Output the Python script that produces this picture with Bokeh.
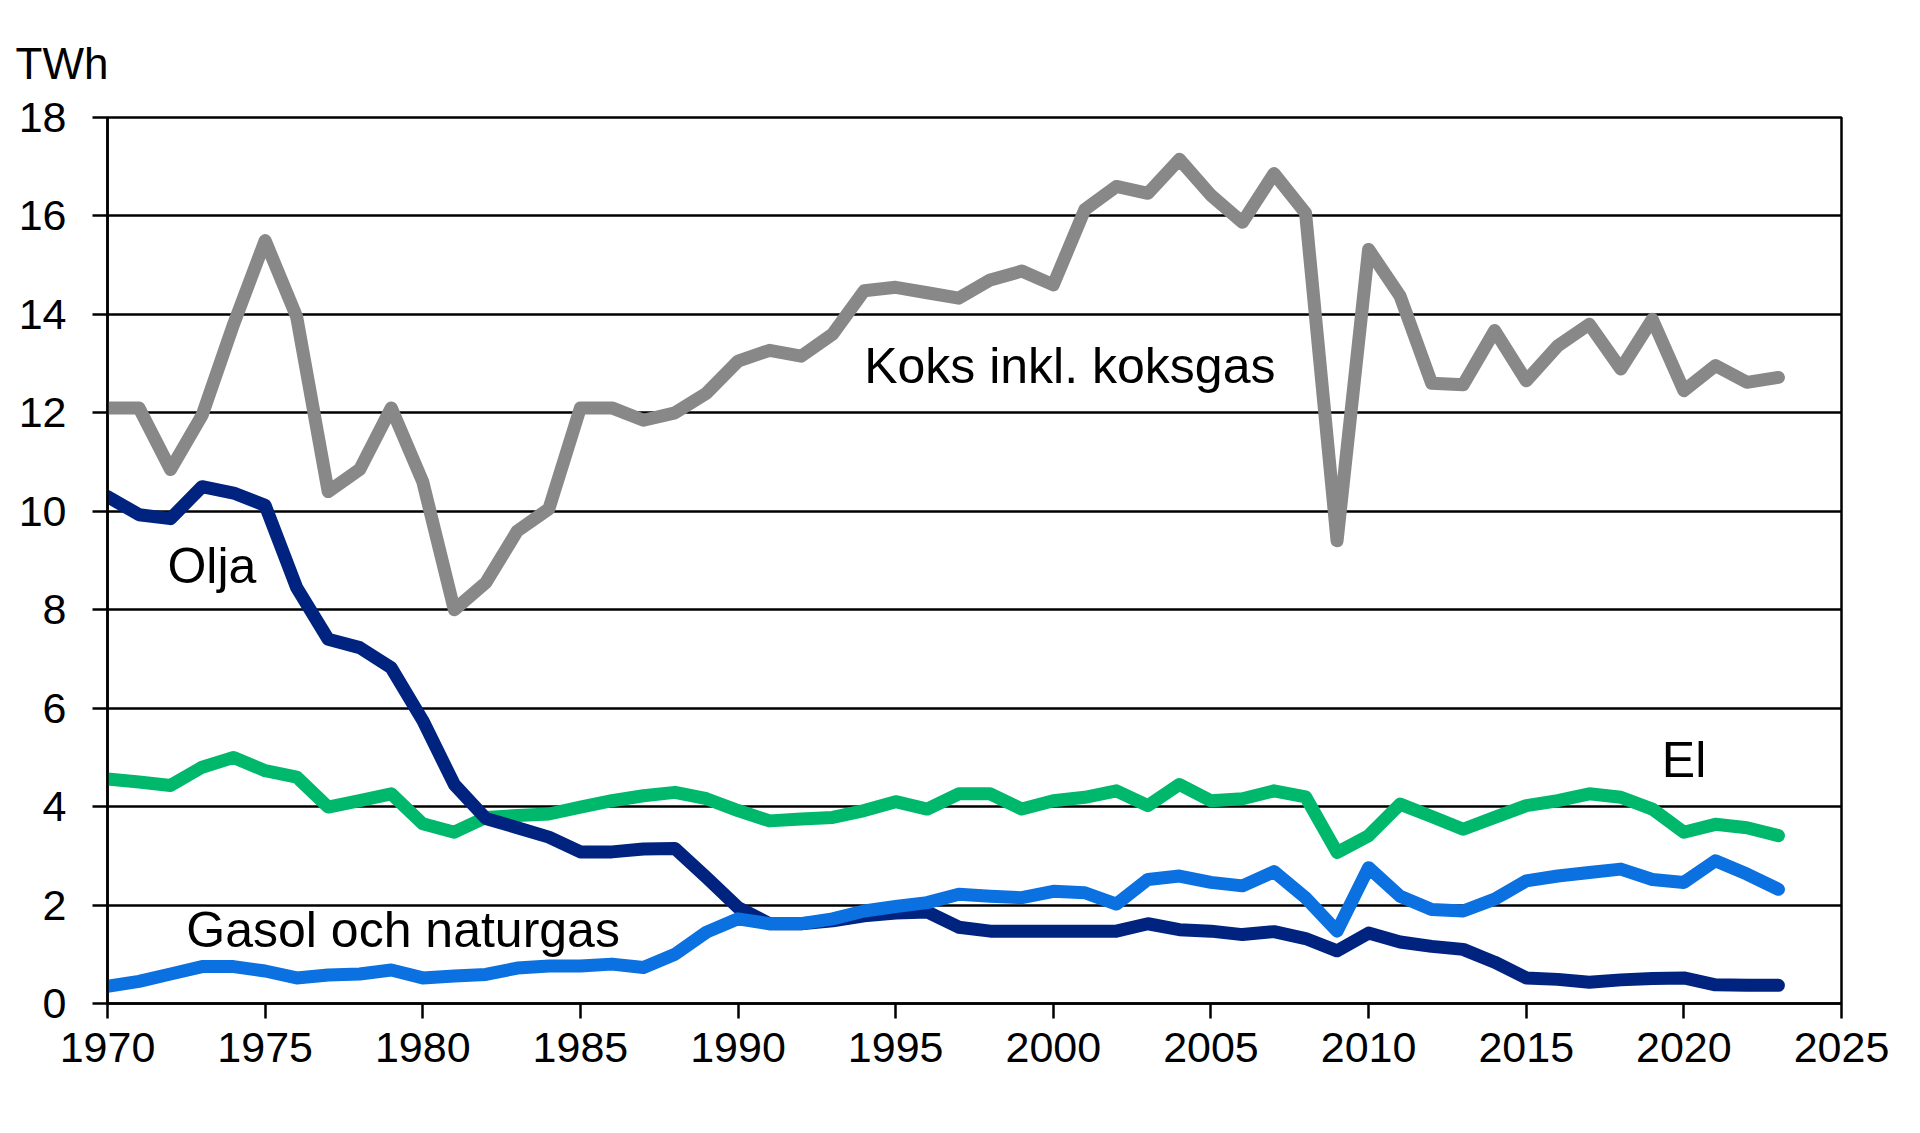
from bokeh.plotting import figure
from bokeh.models import Range1d, Label, FixedTicker
from bokeh.embed import file_html
from bokeh.resources import INLINE

years = list(range(1970, 2024))

koks = [12.1, 12.1, 10.85, 11.95, 13.8, 15.5, 13.95, 10.4, 10.85, 12.1,
        10.6, 8.0, 8.55, 9.6, 10.05, 12.1, 12.1, 11.85, 12.0, 12.4,
        13.05, 13.27, 13.15, 13.6, 14.48, 14.55, 14.44, 14.33, 14.7, 14.88,
        14.6, 16.13, 16.6, 16.46, 17.15, 16.42, 15.87, 16.86, 16.06, 9.4,
        15.32, 14.37, 12.6, 12.57, 13.67, 12.65, 13.36, 13.8, 12.89, 13.9,
        12.45, 12.96, 12.62, 12.72]

olja = [10.3, 9.93, 9.85, 10.5, 10.37, 10.12, 8.45, 7.4, 7.23, 6.82,
        5.75, 4.45, 3.76, 3.57, 3.38, 3.08, 3.08, 3.14, 3.15, 2.56,
        1.95, 1.62, 1.62, 1.68, 1.78, 1.84, 1.86, 1.55, 1.47, 1.47,
        1.47, 1.47, 1.47, 1.62, 1.5, 1.47, 1.4, 1.46, 1.32, 1.07,
        1.43, 1.25, 1.16, 1.1, 0.84, 0.52, 0.49, 0.43, 0.48, 0.51,
        0.52, 0.38, 0.37, 0.37]

el = [4.56, 4.5, 4.43, 4.8, 5.0, 4.73, 4.6, 3.99, 4.12, 4.26,
      3.65, 3.48, 3.78, 3.82, 3.85, 3.99, 4.12, 4.22, 4.29, 4.16,
      3.92, 3.71, 3.75, 3.78, 3.92, 4.1, 3.95, 4.26, 4.26, 3.95,
      4.12, 4.19, 4.32, 4.02, 4.45, 4.12, 4.16, 4.32, 4.2, 3.07,
      3.41, 4.05, 3.8, 3.54, 3.78, 4.02, 4.12, 4.26, 4.19, 3.95,
      3.48, 3.64, 3.57, 3.41]

gasol = [0.35, 0.45, 0.6, 0.75, 0.75, 0.66, 0.52, 0.58, 0.6, 0.68,
         0.52, 0.56, 0.59, 0.72, 0.76, 0.76, 0.8, 0.73, 1.0, 1.45,
         1.72, 1.62, 1.62, 1.72, 1.88, 1.97, 2.05, 2.22, 2.18, 2.15,
         2.28, 2.25, 2.02, 2.52, 2.59, 2.46, 2.39, 2.68, 2.15, 1.47,
         2.76, 2.18, 1.91, 1.88, 2.12, 2.49, 2.59, 2.66, 2.73, 2.52,
         2.46, 2.9, 2.63, 2.32]

x_ticks = list(range(1970, 2026, 5))
y_ticks = list(range(0, 19, 2))

FONT = "'Liberation Sans', Arial, sans-serif"

p = figure(width=1904, height=1117, output_backend="svg", toolbar_location=None,
           x_range=Range1d(1970, 2025), y_range=Range1d(0, 18),
           min_border_left=107, min_border_right=63, min_border_top=117,
           min_border_bottom=114)
p.background_fill_color = "white"
p.border_fill_color = "white"
p.outline_line_color = "black"
p.outline_line_width = 2.5

p.title.text = "TWh"
p.title.align = "left"
p.title.offset = -92
p.title.standoff = 59
p.title.text_font = FONT
p.title.text_font_size = "44px"
p.title.text_font_style = "normal"
p.title.text_color = "black"

p.xgrid.visible = False
p.ygrid.ticker = FixedTicker(ticks=y_ticks)
p.ygrid.grid_line_color = "black"
p.ygrid.grid_line_width = 2.5

for ax in (p.xaxis[0], p.yaxis[0]):
    ax.axis_line_color = "black"
    ax.axis_line_width = 2.5
    ax.major_tick_line_color = "black"
    ax.major_tick_line_width = 2.5
    ax.major_tick_out = 15
    ax.major_tick_in = 0
    ax.minor_tick_out = 0
    ax.minor_tick_in = 0
    ax.major_label_text_font = FONT
    ax.major_label_text_font_size = "43px"
    ax.major_label_text_color = "black"

p.xaxis.ticker = FixedTicker(ticks=x_ticks)
p.yaxis.ticker = FixedTicker(ticks=y_ticks)
p.xaxis.major_label_standoff = 14
p.yaxis.major_label_standoff = 26

common = dict(line_width=13, line_join="round", line_cap="round")
p.line(years, koks, line_color="#888888", **common)
p.line(years, el, line_color="#00B86B", **common)
p.line(years, olja, line_color="#00237F", **common)
p.line(years, gasol, line_color="#0B70E0", **common)

lab = dict(text_font=FONT, text_font_size="50px", text_color="black",
           text_baseline="alphabetic")
p.add_layout(Label(x=1994.0, y=12.95, text="Koks inkl. koksgas", **lab))
p.add_layout(Label(x=1971.9, y=8.88, text="Olja", **lab))
p.add_layout(Label(x=1972.5, y=1.49, text="Gasol och naturgas", **lab))
p.add_layout(Label(x=2019.3, y=4.94, text="El", **lab))

open("out.html", "w").write(file_html(p, INLINE))
